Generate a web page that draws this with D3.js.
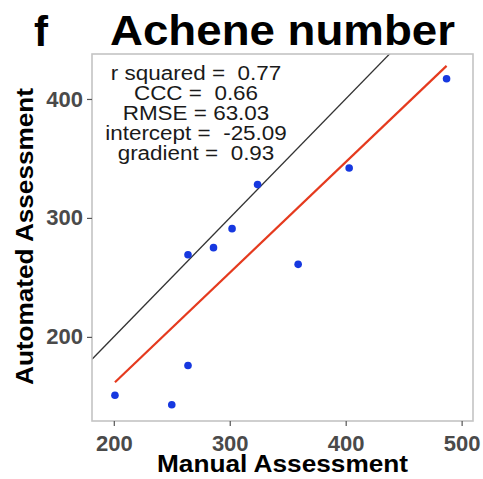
<!DOCTYPE html>
<html>
<head>
<meta charset="utf-8">
<script src="https://cdn.jsdelivr.net/npm/d3@7"></script>
<style>
  body { margin: 0; background: #fff; }
  text { font-family: "Liberation Sans", Arial, sans-serif; white-space: pre; }
</style>
</head>
<body>
<div id="chart"></div>
<script>
// data
var manual    = [487, 403, 324, 302, 264, 286, 359, 264, 201, 250];
var automated = [417, 342, 328, 291, 269, 275, 261, 176, 151, 143];
var xTicks = [200, 300, 400, 500];
var yTicks = [200, 300, 400];
var fitIntercept = -25.09;
var fitGradient = 0.93;
var statLines = ["r squared =  0.77", "CCC =  0.66", "RMSE = 63.03",
                 "intercept =  -25.09", "gradient =  0.93"];

var W = 483, H = 479;
var pLeft = 92, pRight = 473, pTop = 54, pBottom = 421;

var svg = d3.select("#chart").append("svg")
  .attr("width", W).attr("height", H);

var x = d3.scaleLinear().domain([181.2, 509.8]).range([pLeft, pRight]);
var y = d3.scaleLinear().domain([129.3, 437.8]).range([pBottom, pTop]);

svg.append("clipPath").attr("id", "clip")
  .append("rect")
  .attr("x", pLeft).attr("y", pTop)
  .attr("width", pRight - pLeft).attr("height", pBottom - pTop);

// identity line
var dom = x.domain();
svg.append("line")
  .attr("clip-path", "url(#clip)")
  .attr("x1", x(dom[0])).attr("y1", y(dom[0]))
  .attr("x2", x(dom[1])).attr("y2", y(dom[1]))
  .attr("stroke", "#333").attr("stroke-width", 1.3);

// fitted line over the data range
var xmin = d3.min(manual), xmax = d3.max(manual);
svg.append("line")
  .attr("x1", x(xmin)).attr("y1", y(fitIntercept + fitGradient * xmin))
  .attr("x2", x(xmax)).attr("y2", y(fitIntercept + fitGradient * xmax))
  .attr("stroke", "#e53a1e").attr("stroke-width", 2.2);

// points
svg.selectAll(".pt")
  .data(manual)
  .enter()
  .append("circle")
  .attr("class", "pt")
  .attr("cx", function(d) { return x(d); })
  .attr("cy", function(d, i) { return y(automated[i]); })
  .attr("r", 3.8)
  .attr("fill", "#1638e0");

// panel border
svg.append("rect")
  .attr("x", pLeft).attr("y", pTop)
  .attr("width", pRight - pLeft).attr("height", pBottom - pTop)
  .attr("fill", "none").attr("stroke", "#c4c4c4").attr("stroke-width", 1.6);

// axes
var xAxis = svg.append("g")
  .attr("transform", "translate(0," + pBottom + ")")
  .call(d3.axisBottom(x).tickValues(xTicks).tickSize(5).tickPadding(4));
var yAxis = svg.append("g")
  .attr("transform", "translate(" + pLeft + ",0)")
  .call(d3.axisLeft(y).tickValues(yTicks).tickSize(5).tickPadding(4));

[xAxis, yAxis].forEach(function(a) {
  a.select(".domain").remove();
  a.selectAll(".tick line").attr("stroke", "#555").attr("stroke-width", 1.2);
  a.selectAll(".tick text")
    .attr("fill", "#4a4a4a")
    .style("font-size", "22px")
    .style("font-weight", "bold")
    .style("font-family", "'Liberation Sans', Arial, sans-serif");
});
xAxis.selectAll(".tick text").attr("dy", "0.95em");

// stats annotation
var stats = svg.append("g")
  .attr("transform", "translate(196,0) scale(1.07,1)");
stats.selectAll("text")
  .data(statLines)
  .enter()
  .append("text")
  .attr("x", 0)
  .attr("y", function(d, i) { return 80 + i * 20; })
  .attr("text-anchor", "middle")
  .attr("fill", "#1a1a1a")
  .style("font-size", "21px")
  .text(function(d) { return d; });

// titles
svg.append("text")
  .attr("x", 41).attr("y", 46)
  .attr("text-anchor", "middle")
  .style("font-size", "42px").style("font-weight", "bold")
  .text("f");

svg.append("text")
  .attr("x", 110).attr("y", 45)
  .attr("textLength", 345).attr("lengthAdjust", "spacingAndGlyphs")
  .style("font-size", "42px").style("font-weight", "bold")
  .text("Achene number");

svg.append("text")
  .attr("x", 157).attr("y", 472)
  .attr("textLength", 251).attr("lengthAdjust", "spacingAndGlyphs")
  .style("font-size", "23px").style("font-weight", "bold")
  .text("Manual Assessment");

svg.append("text")
  .attr("transform", "translate(33,385) rotate(-90)")
  .attr("x", 0).attr("y", 0)
  .attr("textLength", 297).attr("lengthAdjust", "spacingAndGlyphs")
  .style("font-size", "24px").style("font-weight", "bold")
  .text("Automated Assessment");
</script>
</body>
</html>
